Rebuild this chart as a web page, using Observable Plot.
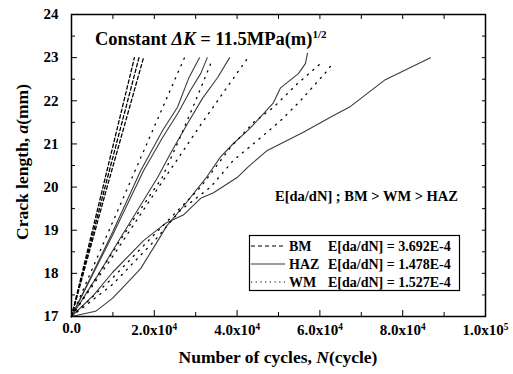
<!DOCTYPE html>
<html><head><meta charset="utf-8">
<script src="https://cdn.jsdelivr.net/npm/d3@7"></script>
<script src="https://cdn.jsdelivr.net/npm/@observablehq/plot@0.6"></script>
<style>
body{margin:0;background:#fff}
svg, svg text{font-family:"Liberation Serif","Times New Roman",serif !important}
</style>
</head><body><div id="chart"></div>
<script>
// ---- data (N in cycles, a in mm) ----
const BM1_N = [0, 7600, 15200];            const BM1_A = [17, 20, 23];
const BM2_N = [0, 8100, 16300];            const BM2_A = [17, 20, 23];
const BM3_N = [0, 8600, 17400];            const BM3_A = [17, 20, 23];

const HAZ1_N = [0, 5000, 10000, 16700, 22000, 25600, 28300, 30900];
const HAZ1_A = [17, 17.98, 18.97, 20.38, 21.31, 21.85, 22.52, 23.0];
const HAZ2_N = [0, 5000, 10000, 17400, 22000, 25800, 28700, 31200, 32800];
const HAZ2_A = [17, 17.95, 18.9, 20.38, 21.15, 21.73, 22.24, 22.63, 23.0];
const HAZ3_N = [0, 6000, 12000, 20800, 23900, 28000, 31600, 35300, 38200];
const HAZ3_A = [17, 17.9, 18.85, 20.22, 20.78, 21.47, 22.05, 22.54, 23.0];
const HAZ4_N = [0, 5800, 9900, 16700, 20500, 23000, 27000, 32400, 36000, 39100, 42800, 46400, 48800, 50500, 54800, 56500, 57000];
const HAZ4_A = [17, 17.12, 17.42, 18.11, 18.7, 19.1, 19.55, 20.2, 20.7, 21.01, 21.33, 21.7, 21.96, 22.3, 22.63, 22.86, 23.1];
const HAZ5_N = [0, 5300, 9900, 17400, 22700, 27000, 31200, 34300, 40000, 42800, 47300, 56000, 63300, 67400, 71700, 75800, 86700];
const HAZ5_A = [17, 17.49, 18.02, 18.76, 19.16, 19.35, 19.74, 19.87, 20.22, 20.48, 20.85, 21.27, 21.66, 21.87, 22.19, 22.49, 23.0];

const WM1_N = [0, 5000, 10000, 15000, 20000, 25000, 27300];
const WM1_A = [17, 18.1, 19.2, 20.3, 21.4, 22.5, 23.0];
const WM2_N = [0, 5000, 10000, 15000, 21900, 26000, 30400, 34000];
const WM2_A = [17, 17.75, 18.5, 19.25, 20.22, 21.1, 22.1, 22.95];
const WM3_N = [0, 10000, 20000, 31900, 43000];
const WM3_A = [17, 18.4, 19.85, 21.54, 23.05];
const WM4_N = [0, 10000, 20000, 31200, 38400, 44000, 48800, 54600, 60600];
const WM4_A = [17, 17.9, 18.9, 20.0, 20.92, 21.5, 21.85, 22.4, 22.9];
const WM5_N = [0, 10000, 20000, 26300, 33600, 39100, 44900, 50500, 55300, 61800, 63300];
const WM5_A = [17, 17.75, 18.75, 19.46, 20.0, 20.62, 21.08, 21.54, 22.0, 22.7, 22.9];

const xMajor = [0, 20000, 40000, 60000, 80000, 100000];
const xMinor = [10000, 30000, 50000, 70000, 90000];
const xTickLabels = ["0.0", "2.0x10^4", "4.0x10^4", "6.0x10^4", "8.0x10^4", "1.0x10^5"];
const yMajor = [17, 18, 19, 20, 21, 22, 23, 24];
const yMinor = [17.5, 18.5, 19.5, 20.5, 21.5, 22.5, 23.5];

const legendNames = ["BM", "HAZ", "WM"];
const legendValues = ["3.692E-4", "1.478E-4", "1.527E-4"];

// ---- build tables ----
function rows(group, id, N, A) { return N.map((n, i) => ({group, id, N: n, a: A[i]})); }
const bmRows = [].concat(rows("BM",1,BM1_N,BM1_A), rows("BM",2,BM2_N,BM2_A), rows("BM",3,BM3_N,BM3_A));
const hazRows = [].concat(rows("HAZ",1,HAZ1_N,HAZ1_A), rows("HAZ",2,HAZ2_N,HAZ2_A), rows("HAZ",3,HAZ3_N,HAZ3_A), rows("HAZ",4,HAZ4_N,HAZ4_A), rows("HAZ",5,HAZ5_N,HAZ5_A));
const wmRows = [].concat(rows("WM",1,WM1_N,WM1_A), rows("WM",2,WM2_N,WM2_A), rows("WM",3,WM3_N,WM3_A), rows("WM",4,WM4_N,WM4_A), rows("WM",5,WM5_N,WM5_A));

const fmtX = d => xTickLabels[xMajor.indexOf(d)];
const txt = {fontWeight: "bold", fontSize: 15, fill: "#000"};

const svg = Plot.plot({
  width: 513, height: 374,
  marginLeft: 71, marginRight: 28, marginTop: 14, marginBottom: 58,
  style: {background: "#fff"},
  x: {domain: [0, 100000]},
  y: {domain: [17, 24]},
  marks: [
    Plot.line(hazRows, {x: "N", y: "a", z: "id", stroke: "#3c3c3c", strokeWidth: 1.1}),
    Plot.line(wmRows, {x: "N", y: "a", z: "id", stroke: "#000", strokeWidth: 1.3, strokeDasharray: "1.2,6"}),
    Plot.line(bmRows, {x: "N", y: "a", z: "id", stroke: "#000", strokeWidth: 1.3, strokeDasharray: "3.5,2.5"}),
    Plot.frame({stroke: "#000", strokeWidth: 1.5}),
    // inward ticks
    Plot.axisX(xMajor, {anchor: "bottom", tickSize: -6, fill: "none", label: null}),
    Plot.axisX(xMinor, {anchor: "bottom", tickSize: -4, fill: "none", label: null}),
    Plot.axisX(xMajor.concat(xMinor), {anchor: "top", tickSize: -4, fill: "none", label: null}),
    Plot.axisY(yMajor, {anchor: "left", tickSize: -6, fill: "none", label: null}),
    Plot.axisY(yMinor, {anchor: "left", tickSize: -4, fill: "none", label: null}),
    Plot.axisY(yMajor.concat(yMinor), {anchor: "right", tickSize: -4, fill: "none", label: null}),
    // tick labels
    Plot.axisX(xMajor, {anchor: "bottom", tickSize: 0, tickPadding: 8, tickFormat: fmtX, label: null, ...txt}),
    Plot.axisY(yMajor, {anchor: "left", tickSize: 0, tickPadding: 13, tickFormat: d => String(d), label: null, ...txt})
  ]
});

const s = d3.select(svg);
// superscripts in x tick labels
s.selectAll('g[aria-label="x-axis tick label"] text').each(function() {
  const t = this.textContent;
  const m = t.match(/^(.*x10)\^(\d)$/);
  const el = d3.select(this);
  if (m) {
    el.text(m[1]);
    el.append("tspan").attr("dy", "-0.55em").attr("font-size", "0.62em").text(m[2]);
  } else {
    el.attr("dy", "-0.15em");
  }
});

const ann = s.append("g").attr("font-weight", "bold").attr("fill", "#000").attr("text-anchor", "start");
// title
const t1 = ann.append("text").attr("x", 95).attr("y", 45).attr("font-size", 18.5);
t1.append("tspan").text("Constant ");
t1.append("tspan").attr("font-style", "italic").text("ΔK");
t1.append("tspan").text(" = 11.5MPa(m)");
t1.append("tspan").attr("dy", "-0.6em").attr("font-size", "0.6em").text("1/2");
// ranking note
ann.append("text").attr("x", 275).attr("y", 201).attr("font-size", 14.5).text("E[da/dN] ; BM > WM > HAZ");

// axis titles
const xt = ann.append("text").attr("x", 278).attr("y", 363).attr("text-anchor", "middle").attr("font-size", 17.5);
xt.append("tspan").text("Number of cycles, ");
xt.append("tspan").attr("font-style", "italic").text("N");
xt.append("tspan").text("(cycle)");
const yt = ann.append("text").attr("transform", "translate(28,162) rotate(-90)").attr("text-anchor", "middle").attr("font-size", 17.5);
yt.append("tspan").text("Crack length, ");
yt.append("tspan").attr("font-style", "italic").text("a");
yt.append("tspan").text("(mm)");

// legend
const lg = s.append("g").attr("text-anchor", "start").attr("font-weight", "bold").attr("fill", "#000");
lg.append("rect").attr("x", 249.5).attr("y", 235.5).attr("width", 210).attr("height", 55)
  .attr("fill", "#fff").attr("stroke", "#000").attr("stroke-width", 1.2);
const dashes = ["4,3", null, "1.2,3.5"];
const strokes = ["#000", "#3c3c3c", "#000"];
legendNames.forEach((name, i) => {
  const y = 246 + i * 18;
  const l = lg.append("line").attr("x1", 251).attr("x2", 285).attr("y1", y).attr("y2", y)
    .attr("stroke", strokes[i]).attr("stroke-width", 1.2);
  if (dashes[i]) l.attr("stroke-dasharray", dashes[i]);
  lg.append("text").attr("x", 289).attr("y", y + 5).attr("font-size", 14).text(name);
  lg.append("text").attr("x", 328).attr("y", y + 5).attr("font-size", 14).text("E[da/dN] = " + legendValues[i]);
});

document.getElementById("chart").appendChild(svg);
</script>
</body></html>
